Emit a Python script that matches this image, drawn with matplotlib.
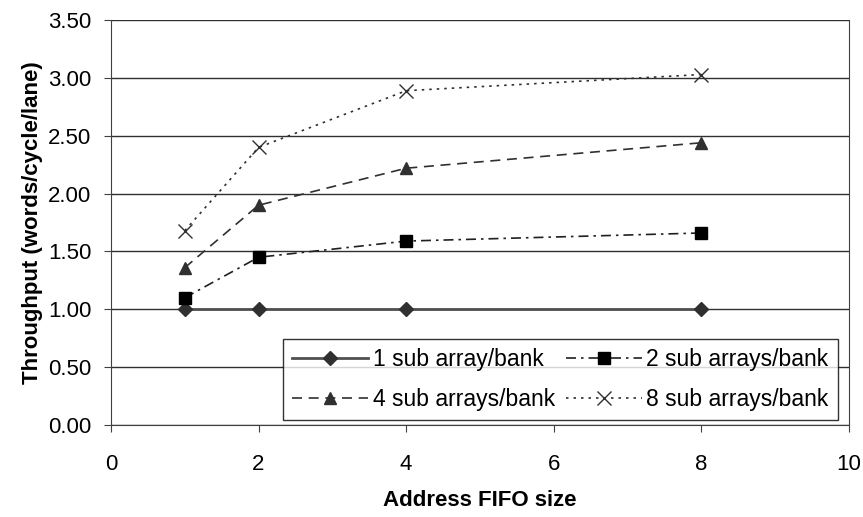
import numpy as np
import matplotlib
matplotlib.use('Agg')
import matplotlib.pyplot as plt

plt.rcParams['font.family'] = ['Liberation Sans', 'DejaVu Sans']

fifo = [1, 2, 4, 8]
sub1 = [1.00, 1.00, 1.00, 1.00]
sub2 = [1.10, 1.45, 1.59, 1.66]
sub4 = [1.36, 1.90, 2.22, 2.44]
sub8 = [1.68, 2.40, 2.89, 3.03]
labels = ['1 sub array/bank', '2 sub arrays/bank',
          '4 sub arrays/bank', '8 sub arrays/bank']
yticks = np.arange(0, 3.51, 0.5)
xticks = [0, 2, 4, 6, 8, 10]

fig = plt.figure(figsize=(8.63, 5.17), dpi=100)
ax = fig.add_axes([0.1286, 0.178, 0.855, 0.783])

for y in yticks:
    ax.axhline(y, color='#303030', lw=1.0, zorder=0)

l1, = ax.plot(fifo, sub1, color='#505050', lw=2.0, marker='D', ms=7.5,
              mfc='#303030', mec='#303030', label=labels[0])
l2, = ax.plot(fifo, sub2, color='#202020', lw=1.2, ls=(0, (6, 3, 1.5, 3)),
              marker='s', ms=9, mfc='black', mec='black', label=labels[1])
l4, = ax.plot(fifo, sub4, color='#303030', lw=1.2, ls=(0, (6, 4)),
              marker='^', ms=9, mfc='#303030', mec='#303030', label=labels[2])
l8, = ax.plot(fifo, sub8, color='#303030', lw=1.2, ls=(0, (1.5, 3)),
              marker='x', ms=10, mew=1.0, label=labels[3])

ax.set_xlim(0, 10)
ax.set_ylim(0, 3.5)
ax.set_xticks(xticks)
ax.set_yticks(yticks)
ax.set_yticklabels([f'{v:.2f}' for v in yticks])
ax.tick_params(labelsize=16, direction='out', length=5, color='#404040')
ax.tick_params(axis='x', pad=16)
ax.tick_params(axis='y', pad=9)

for side in ['left', 'bottom', 'right']:
    ax.spines[side].set_color('#404040')
ax.spines['top'].set_visible(False)

ax.set_xlabel('Address FIFO size', fontsize=16, fontweight='bold', labelpad=11)
ax.set_ylabel('Throughput (words/cycle/lane)', fontsize=16, fontweight='bold',
              labelpad=4)

# matplotlib fills legend columns first, so order handles for row-wise layout
leg = ax.legend([l1, l4, l2, l8], [labels[0], labels[2], labels[1], labels[3]],
                ncol=2, loc='lower right', bbox_to_anchor=(0.985, 0.012),
                borderaxespad=0, fontsize=16.5, frameon=True, fancybox=False,
                handlelength=3.3, columnspacing=0.5, borderpad=0.4,
                labelspacing=0.75, handletextpad=0.2)
leg.get_frame().set_edgecolor('black')
leg.get_frame().set_linewidth(1.0)

fig.savefig('out.png', dpi=100)
